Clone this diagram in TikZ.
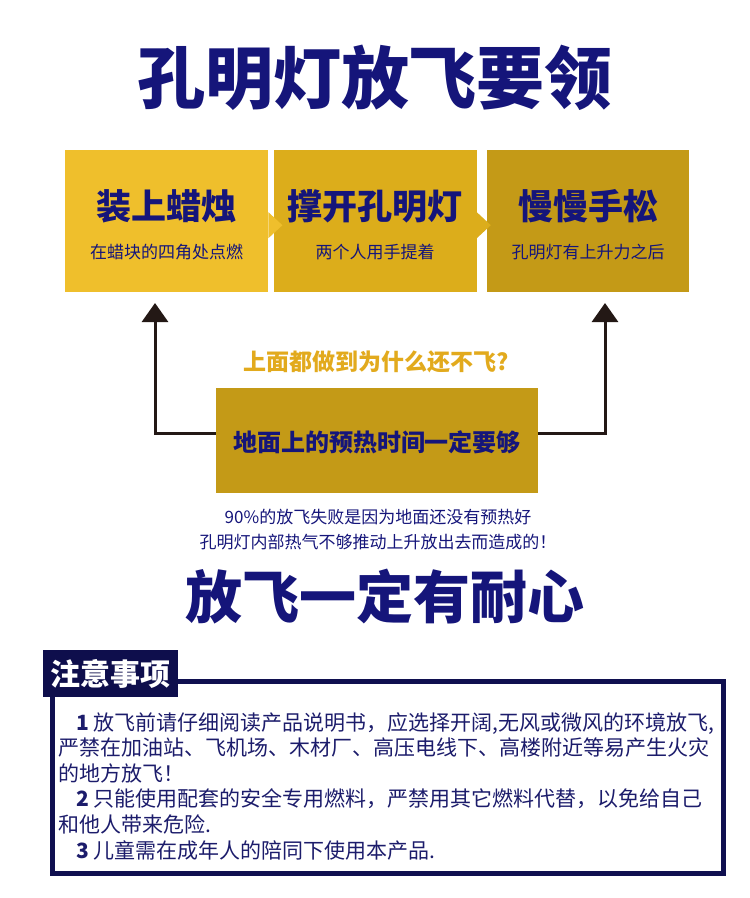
\documentclass[tikz,border=0pt]{standalone}
\usepackage{fontspec}
\setmainfont{Noto Sans CJK SC}
\usetikzlibrary{positioning,arrows.meta}
\definecolor{navy}{HTML}{15157A}
\definecolor{gold1}{HTML}{EFBF2C}
\definecolor{gold2}{HTML}{DCAD1B}
\definecolor{gold3}{HTML}{C49A17}
\definecolor{qgold}{HTML}{E2AA1D}
\definecolor{tabc}{HTML}{0E0E4C}
\definecolor{framec}{HTML}{101050}
\definecolor{bodyc}{HTML}{1C1C6B}
\definecolor{arrowc}{HTML}{231815}

\begin{document}
\begin{tikzpicture}
[x=1pt,y=-1pt,
  stepbox/.style={minimum width=203pt,minimum height=142pt,inner sep=0pt,anchor=north west},
  bigtxt/.style={text=navy,font=\fontsize{35}{35}\selectfont\bfseries},
  smalltxt/.style={text=navy,font=\fontsize{17}{17}\selectfont},
  uparrow/.style={draw=arrowc,line width=3pt,-{Triangle[width=26pt,length=19pt]}}]
\useasboundingbox (0,0) rectangle (750,898);
% title
\node[text=navy,font=\fontsize{68}{68}\selectfont\bfseries] (title) at (375,78) {孔明灯放飞要领};
% three steps
\node[stepbox,fill=gold1] (s1) at (65,150) {};
\node[stepbox,fill=gold2,right=5pt of s1] (s2) {};
\node[stepbox,fill=gold3,minimum width=202pt,right=10pt of s2] (s3) {};
\fill[gold1] ([yshift=9pt]s1.east) -- ([xshift=14pt,yshift=-4pt]s1.east) -- ([yshift=-17pt]s1.east) -- cycle;
\fill[gold2] ([yshift=9pt]s2.east) -- ([xshift=14pt,yshift=-4pt]s2.east) -- ([yshift=-17pt]s2.east) -- cycle;
\node[bigtxt] (t1) at ([yshift=15pt]s1.center) {装上蜡烛};
\node[smalltxt] (u1) at ([yshift=-31pt]s1.center) {在蜡块的四角处点燃};
\node[bigtxt] (t2) at ([yshift=15pt]s2.center) {撑开孔明灯};
\node[smalltxt] (u2) at ([yshift=-31pt]s2.center) {两个人用手提着};
\node[bigtxt] (t3) at ([yshift=15pt]s3.center) {慢慢手松};
\node[smalltxt] (u3) at ([yshift=-31pt]s3.center) {孔明灯有上升力之后};
% question and ground box
\node[text=qgold,font=\fontsize{23}{23}\selectfont\bfseries] (q) at (376,362) {上面都做到为什么还不飞?};
\node[fill=gold3,minimum width=322pt,minimum height=105pt,inner sep=0pt] (mid) at (377,440) {};
\node[text=navy,font=\fontsize{24}{24}\selectfont\bfseries] (midtxt) at ([yshift=-2pt]mid.center) {地面上的预热时间一定要够};
\coordinate (la) at (155,303);
\coordinate (ra) at (605,303);
\draw[uparrow] ([yshift=7pt]mid.west) -| (la);
\draw[uparrow] ([yshift=7pt]mid.east) -| (ra);
\node[text=navy,align=center,font=\fontsize{17}{25}\selectfont] (why) at (378,530)
  {90\%的放飞失败是因为地面还没有预热好\\孔明灯内部热气不够推动上升放出去而造成的！};
\node[text=navy,font=\fontsize{57}{57}\selectfont\bfseries] (title2) at (385,597) {放飞一定有耐心};
% notice
\node[draw=framec,line width=5pt,minimum width=671pt,minimum height=192pt,inner sep=0pt,anchor=north west] (frame) at (49.5,678.5) {};
\node[fill=tabc,text=white,font=\fontsize{30}{30}\selectfont\bfseries,minimum width=135pt,minimum height=47pt,inner sep=0pt,anchor=north west] (tab) at (43,650) {注意事项};
\node[anchor=north west,inner sep=0pt,text=bodyc,align=left,font=\fontsize{21}{25.6}\selectfont] (body) at (58,712)
  {\hspace*{18pt}{\bfseries 1} 放飞前请仔细阅读产品说明书，应选择开阔,无风或微风的环境放飞,\\
   严禁在加油站、飞机场、木材厂、高压电线下、高楼附近等易产生火灾\\
   的地方放飞！\\
   \hspace*{18pt}{\bfseries 2} 只能使用配套的安全专用燃料，严禁用其它燃料代替，以免给自己\\
   和他人带来危险.\\
   \hspace*{18pt}{\bfseries 3} 儿童需在成年人的陪同下使用本产品.};
\end{tikzpicture}
\end{document}
